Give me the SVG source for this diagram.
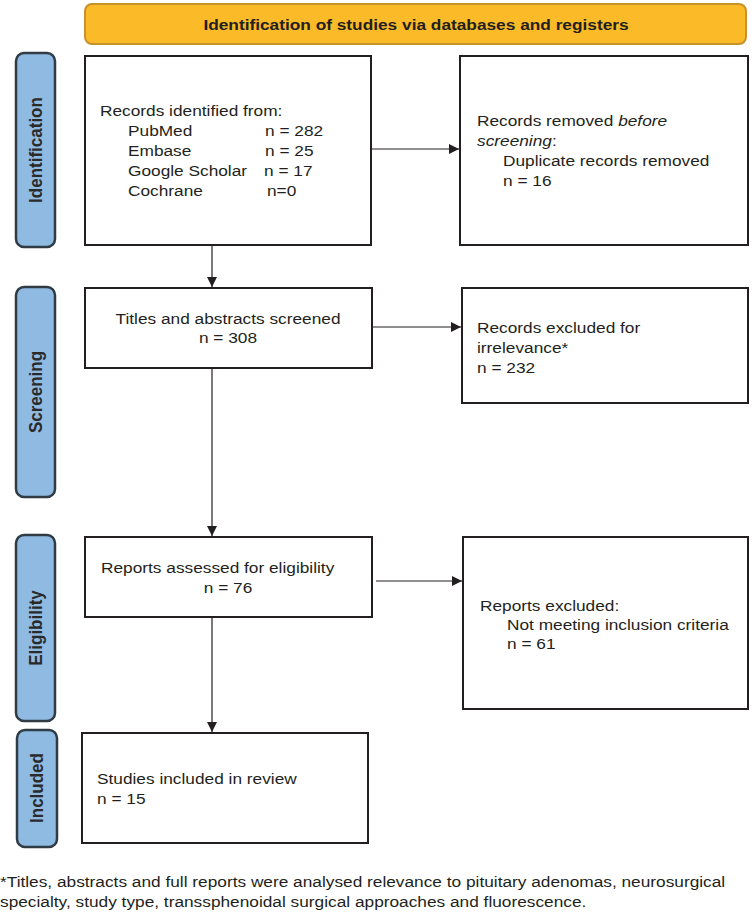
<svg xmlns="http://www.w3.org/2000/svg" width="752" height="914" viewBox="0 0 752 914">
<style>
.box{fill:#fff;stroke:#231f20;stroke-width:2}
.side{fill:#8fbbe3;stroke:#2f3b45;stroke-width:2.5}
.t{font-family:"Liberation Sans",Arial,sans-serif;font-size:15.5px;fill:#231f20}
.m{text-anchor:middle}
.lab{font-family:"Liberation Sans",Arial,sans-serif;font-size:17px;font-weight:bold;fill:#2a2a2a;text-anchor:middle}
.hd{font-family:"Liberation Sans",Arial,sans-serif;font-size:15.5px;font-weight:bold;fill:#231f20;text-anchor:middle}
.c{stroke:#231f20;stroke-width:1.2;fill:none}
</style>
<defs>
<marker id="ah" viewBox="0 0 10 10" refX="10" refY="5" markerWidth="11" markerHeight="10" markerUnits="userSpaceOnUse" orient="auto">
<path d="M0,0 L10,5 L0,10 z" fill="#231f20"/>
</marker>
</defs>
<g id="header">
<rect x="85" y="4" width="661" height="40" rx="7" fill="#fbba27" stroke="#c8922a" stroke-width="2"/>
<text class="hd" transform="matrix(1.115 0 0 1 416 29.5)">Identification of studies via databases and registers</text>
</g>
<g id="lab-identification">
<rect class="side" x="16" y="53" width="39" height="194" rx="8"/>
<text class="lab" transform="translate(42,150) rotate(-90) scale(1,1.08)">Identification</text>
</g>
<g id="lab-screening">
<rect class="side" x="16" y="287" width="39" height="210" rx="8"/>
<text class="lab" transform="translate(42,392) rotate(-90) scale(1,1.08)">Screening</text>
</g>
<g id="lab-eligibility">
<rect class="side" x="16" y="535" width="39" height="186" rx="8"/>
<text class="lab" transform="translate(42,628) rotate(-90) scale(1,1.08)">Eligibility</text>
</g>
<g id="lab-included">
<rect class="side" x="17" y="730" width="40" height="117" rx="8"/>
<text class="lab" transform="translate(43,788) rotate(-90) scale(1,1.08)">Included</text>
</g>
<g id="records-identified">
<rect class="box" x="85" y="56" width="286" height="189"/>
<text class="t" transform="matrix(1.115 0 0 1 100 116)">Records identified from:</text>
<text class="t" transform="matrix(1.115 0 0 1 128 136)">PubMed</text><text class="t" transform="matrix(1.115 0 0 1 265 136)">n = 282</text>
<text class="t" transform="matrix(1.115 0 0 1 128 156)">Embase</text><text class="t" transform="matrix(1.115 0 0 1 265 156)">n = 25</text>
<text class="t" transform="matrix(1.115 0 0 1 128 176)">Google Scholar</text><text class="t" transform="matrix(1.115 0 0 1 264 176)">n = 17</text>
<text class="t" transform="matrix(1.115 0 0 1 128 196)">Cochrane</text><text class="t" transform="matrix(1.115 0 0 1 267 196)">n=0</text>
</g>
<g id="records-removed">
<rect class="box" x="460" y="56" width="288" height="189"/>
<text class="t" transform="matrix(1.115 0 0 1 477 126)">Records removed <tspan font-style="italic">before</tspan></text>
<text class="t" transform="matrix(1.115 0 0 1 477 146)"><tspan font-style="italic">screening</tspan>:</text>
<text class="t" transform="matrix(1.115 0 0 1 503 166)">Duplicate records removed</text>
<text class="t" transform="matrix(1.115 0 0 1 503 186)">n = 16</text>
</g>
<g id="titles-screened">
<rect class="box" x="85" y="288" width="287" height="80"/>
<text class="t m" transform="matrix(1.115 0 0 1 228 324)">Titles and abstracts screened</text>
<text class="t m" transform="matrix(1.115 0 0 1 228 343)">n = 308</text>
</g>
<g id="records-excluded">
<rect class="box" x="462" y="288" width="286" height="115"/>
<text class="t" transform="matrix(1.115 0 0 1 477 333)">Records excluded for</text>
<text class="t" transform="matrix(1.115 0 0 1 477 353)">irrelevance*</text>
<text class="t" transform="matrix(1.115 0 0 1 477 373)">n = 232</text>
</g>
<g id="reports-assessed">
<rect class="box" x="85" y="537" width="287" height="80"/>
<text class="t" transform="matrix(1.115 0 0 1 101 573)">Reports assessed for eligibility</text>
<text class="t m" transform="matrix(1.115 0 0 1 228 593)">n = 76</text>
</g>
<g id="reports-excluded">
<rect class="box" x="463" y="537" width="285" height="172"/>
<text class="t" transform="matrix(1.115 0 0 1 480 611)">Reports excluded:</text>
<text class="t" transform="matrix(1.115 0 0 1 507 630)">Not meeting inclusion criteria</text>
<text class="t" transform="matrix(1.115 0 0 1 507 649)">n = 61</text>
</g>
<g id="studies-included">
<rect class="box" x="82" y="733" width="286" height="110"/>
<text class="t" transform="matrix(1.115 0 0 1 97 784)">Studies included in review</text>
<text class="t" transform="matrix(1.115 0 0 1 97 804)">n = 15</text>
</g>
<g id="connectors">
<line class="c" x1="372" y1="149" x2="459" y2="149" marker-end="url(#ah)"/>
<line class="c" x1="212" y1="245" x2="212" y2="287" marker-end="url(#ah)"/>
<line class="c" x1="373" y1="327" x2="461" y2="327" marker-end="url(#ah)"/>
<line class="c" x1="212" y1="368" x2="212" y2="536" marker-end="url(#ah)"/>
<line class="c" x1="376" y1="581" x2="462" y2="581" marker-end="url(#ah)"/>
<line class="c" x1="212" y1="617" x2="212" y2="732" marker-end="url(#ah)"/>
</g>
<g id="footnote">
<text class="t" transform="matrix(1.115 0 0 1 0 887)">*Titles, abstracts and full reports were analysed relevance to pituitary adenomas, neurosurgical</text>
<text class="t" transform="matrix(1.115 0 0 1 0 907)">specialty, study type, transsphenoidal surgical approaches and fluorescence.</text>
</g>
</svg>
